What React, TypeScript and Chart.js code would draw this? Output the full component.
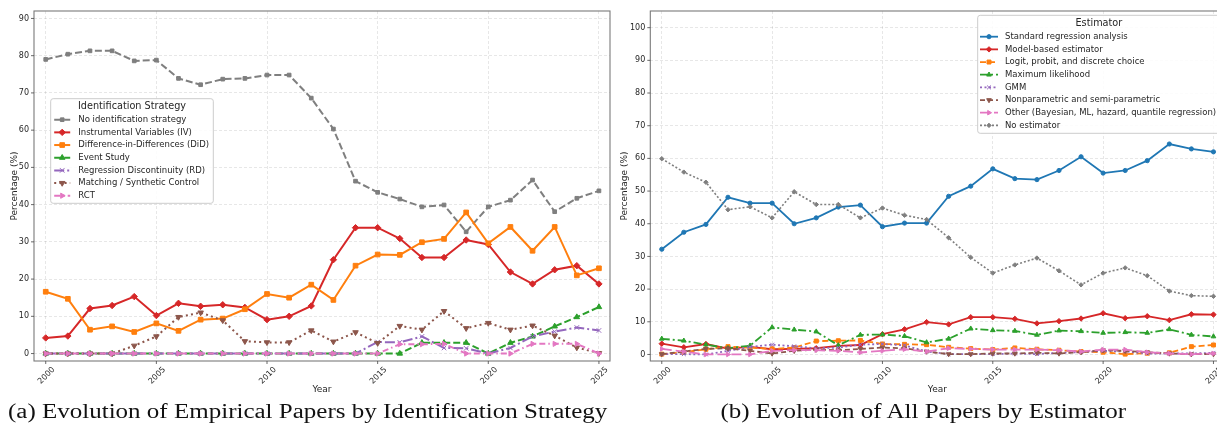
import React, { useEffect, useRef } from "react";
import { Chart, registerables } from "chart.js";

Chart.register(...registerables);

// ---------------- data ----------------
const years = [
  2000, 2001, 2002, 2003, 2004, 2005, 2006, 2007, 2008, 2009, 2010, 2011, 2012,
  2013, 2014, 2015, 2016, 2017, 2018, 2019, 2020, 2021, 2022, 2023, 2024, 2025,
];
const xTickValues = [2000, 2005, 2010, 2015, 2020, 2025];
const leftYTickValues = [0, 10, 20, 30, 40, 50, 60, 70, 80, 90];
const rightYTickValues = [0, 10, 20, 30, 40, 50, 60, 70, 80, 90, 100];

// (a) Identification strategy (% of empirical papers)
const noIdentification = [79.0, 80.4, 81.3, 81.3, 78.6, 78.8, 73.9, 72.2, 73.7, 73.9, 74.8, 74.8, 68.6, 60.3, 46.3, 43.3, 41.5, 39.4, 39.9, 32.7, 39.4, 41.2, 46.6, 38.1, 41.7, 43.7];
const instrumentalVariables = [4.2, 4.7, 12.1, 12.9, 15.3, 10.2, 13.5, 12.7, 13.1, 12.4, 9.1, 10.0, 12.8, 25.2, 33.8, 33.8, 30.9, 25.8, 25.8, 30.5, 29.3, 21.9, 18.7, 22.5, 23.6, 18.7];
const differenceInDifferences = [16.6, 14.7, 6.4, 7.3, 5.8, 8.1, 6.1, 9.1, 9.4, 11.9, 16.0, 15.0, 18.5, 14.4, 23.6, 26.6, 26.5, 29.9, 30.8, 37.9, 29.6, 34.0, 27.6, 34.0, 21.0, 22.9];
const eventStudy = [0, 0, 0, 0, 0, 0, 0, 0, 0, 0, 0, 0, 0, 0, 0, 0, 0, 2.9, 2.9, 2.9, 0, 2.9, 4.6, 7.3, 9.8, 12.5];
const regressionDiscontinuity = [0, 0, 0, 0, 0, 0, 0, 0, 0, 0, 0, 0, 0, 0, 0, 3.1, 3.0, 4.6, 1.5, 1.4, 0, 1.5, 4.6, 5.9, 7.0, 6.2];
const matchingSynthetic = [0, 0, 0, 0, 2.1, 4.6, 9.8, 11.0, 8.9, 3.3, 3.0, 3.0, 6.2, 3.2, 5.7, 2.8, 7.4, 6.4, 11.4, 6.8, 8.2, 6.4, 7.5, 4.8, 1.6, 0.1];
const rct = [0, 0, 0, 0, 0, 0, 0, 0, 0, 0, 0, 0, 0, 0, 0, 0, 2.5, 2.5, 2.6, 0, 0, 0, 2.6, 2.6, 2.6, 0];

// (b) Estimator (% of all papers)
const standardRegression = [32.2, 37.4, 39.8, 48.1, 46.3, 46.3, 40.0, 41.8, 45.1, 45.7, 39.1, 40.2, 40.2, 48.4, 51.5, 56.8, 53.8, 53.5, 56.3, 60.5, 55.5, 56.3, 59.3, 64.4, 62.9, 62.0];
const modelBased = [3.3, 2.2, 3.2, 1.8, 2.3, 1.6, 1.7, 1.9, 2.6, 2.9, 6.2, 7.7, 9.9, 9.2, 11.4, 11.4, 10.9, 9.5, 10.2, 11.0, 12.6, 11.1, 11.7, 10.5, 12.3, 12.2];
const logitProbit = [0.1, 0.7, 1.6, 2.4, 2.1, 1.7, 2.1, 4.1, 4.2, 4.3, 3.2, 3.1, 3.0, 2.2, 1.8, 1.5, 2.0, 1.6, 1.3, 0.9, 0.7, 0.1, 0.4, 0.5, 2.4, 2.9];
const maximumLikelihood = [4.8, 4.2, 3.0, 1.9, 2.7, 8.3, 7.6, 7.0, 2.8, 6.0, 6.1, 5.6, 3.7, 4.8, 7.9, 7.4, 7.2, 6.0, 7.3, 7.1, 6.6, 6.8, 6.6, 7.7, 6.0, 5.5];
const gmm = [0.1, 0.1, 0, 1.1, 2.3, 3.0, 2.5, 1.9, 2.1, 3.0, 3.2, 2.8, 0.9, 0.1, 0.1, 0.1, 0.3, 0.1, 0.5, 0.7, 1.1, 0.9, 0.3, 0.3, 0.3, 0.5];
const nonparametric = [0.1, 0.9, 1.7, 1.9, 1.1, 0.3, 1.1, 1.5, 1.3, 1.7, 2.1, 1.9, 0.9, 0.1, 0.1, 0.3, 0.3, 0.5, 0.3, 0.7, 1.3, 1.1, 0.7, 0.3, 0.1, 0.1];
const otherEstimators = [1.7, 0.9, 0, 0, 0, 1.1, 1.3, 1.3, 1.1, 0.6, 1.1, 1.6, 0.9, 1.9, 1.7, 1.5, 1.5, 1.5, 1.3, 0.9, 1.5, 1.5, 0.7, 0.3, 0.1, 0.3];
const noEstimator = [59.9, 55.8, 52.7, 44.3, 45.2, 41.8, 49.8, 45.9, 45.9, 41.8, 44.8, 42.6, 41.3, 35.7, 29.7, 24.9, 27.4, 29.5, 25.6, 21.3, 24.9, 26.5, 24.1, 19.4, 18.0, 17.8];

// ---------------- styling ----------------
const SANS = "'DejaVu Sans', 'Liberation Sans', sans-serif";
const TEXT = "#262626";
const GRID = "rgba(0,0,0,0.12)";
const FRAME = "#7a7a7a";

type Series = {
  label: string;
  data: number[];
  color: string;
  dash: number[];
  marker: string;
  rot?: number;
  r: number;
  w: number;
};

const leftSeries: Series[] = [
  { label: "No identification strategy", data: noIdentification, color: "#7f7f7f", dash: [7, 3], marker: "rect", r: 2.6, w: 2 },
  { label: "Instrumental Variables (IV)", data: instrumentalVariables, color: "#d62728", dash: [], marker: "rectRot", r: 3.2, w: 2 },
  { label: "Difference-in-Differences (DiD)", data: differenceInDifferences, color: "#ff7f0e", dash: [], marker: "rect", r: 3.3, w: 2 },
  { label: "Event Study", data: eventStudy, color: "#2ca02c", dash: [7, 3], marker: "triangle", r: 3.2, w: 2 },
  { label: "Regression Discontinuity (RD)", data: regressionDiscontinuity, color: "#9467bd", dash: [10, 3, 2, 3], marker: "crossRot", r: 3.2, w: 2 },
  { label: "Matching / Synthetic Control", data: matchingSynthetic, color: "#8c564b", dash: [2, 3.2], marker: "triangle", rot: 180, r: 3.2, w: 2 },
  { label: "RCT", data: rct, color: "#e377c2", dash: [6, 3, 1.5, 3], marker: "triangle", rot: 90, r: 3, w: 2 },
];

const rightSeries: Series[] = [
  { label: "Standard regression analysis", data: standardRegression, color: "#1f77b4", dash: [], marker: "circle", r: 2.1, w: 1.8 },
  { label: "Model-based estimator", data: modelBased, color: "#d62728", dash: [], marker: "rectRot", r: 2.7, w: 1.8 },
  { label: "Logit, probit, and discrete choice", data: logitProbit, color: "#ff7f0e", dash: [6, 3], marker: "rect", r: 2.8, w: 1.8 },
  { label: "Maximum likelihood", data: maximumLikelihood, color: "#2ca02c", dash: [8, 3, 2, 3], marker: "triangle", r: 2.7, w: 1.8 },
  { label: "GMM", data: gmm, color: "#9467bd", dash: [2, 2.5], marker: "crossRot", r: 2.7, w: 1.8 },
  { label: "Nonparametric and semi-parametric", data: nonparametric, color: "#8c564b", dash: [5, 3], marker: "triangle", rot: 180, r: 2.7, w: 1.8 },
  { label: "Other (Bayesian, ML, hazard, quantile regression)", data: otherEstimators, color: "#e377c2", dash: [10, 4], marker: "triangle", rot: 90, r: 2.6, w: 1.8 },
  { label: "No estimator", data: noEstimator, color: "#7f7f7f", dash: [2, 2], marker: "rectRot", r: 2.2, w: 1.6 },
];

type LegendSpec = {
  title: string;
  x: number; y: number; w: number; h: number;
  titleY: number; row0: number; step: number;
  s0: number; s1: number; tx: number;
  titleSize: number; itemSize: number;
};

type PanelSpec = {
  left: number; width: number; height: number;
  padLeft: number; padRight: number; padTop: number;
  yAxisWidth: number; xAxisHeight: number;
  xMin: number; xMax: number; yMin: number; yMax: number;
  yTicks: number[];
  series: Series[];
  xTitleY: number; yTitleX: number;
  legend: LegendSpec;
};

function drawMarker(ctx: CanvasRenderingContext2D, s: Series, x: number, y: number) {
  const r = s.r;
  ctx.save();
  ctx.translate(x, y);
  ctx.rotate(((s.rot || 0) * Math.PI) / 180);
  ctx.setLineDash([]);
  ctx.fillStyle = s.color;
  ctx.strokeStyle = s.color;
  ctx.lineWidth = 1;
  ctx.beginPath();
  if (s.marker === "circle") {
    ctx.arc(0, 0, r, 0, Math.PI * 2);
    ctx.fill();
    ctx.stroke();
  } else if (s.marker === "rect") {
    const h = r * Math.SQRT1_2;
    ctx.rect(-h, -h, 2 * h, 2 * h);
    ctx.fill();
    ctx.stroke();
  } else if (s.marker === "rectRot") {
    ctx.moveTo(0, -r); ctx.lineTo(r, 0); ctx.lineTo(0, r); ctx.lineTo(-r, 0); ctx.closePath();
    ctx.fill();
    ctx.stroke();
  } else if (s.marker === "triangle") {
    for (let k = 0; k < 3; k++) {
      const a = (k * 2 * Math.PI) / 3;
      const px = Math.sin(a) * r, py = -Math.cos(a) * r;
      if (k === 0) ctx.moveTo(px, py); else ctx.lineTo(px, py);
    }
    ctx.closePath();
    ctx.fill();
    ctx.stroke();
  } else if (s.marker === "crossRot") {
    const h = r * Math.SQRT1_2;
    ctx.moveTo(-h, -h); ctx.lineTo(h, h); ctx.moveTo(h, -h); ctx.lineTo(-h, h);
    ctx.stroke();
  }
  ctx.restore();
}

function makeDecor(spec: PanelSpec) {
  return {
    id: "decor",
    afterDraw(chart: any) {
      const { ctx, chartArea: a } = chart;
      ctx.save();
      // frame
      ctx.setLineDash([]);
      ctx.strokeStyle = FRAME;
      ctx.lineWidth = 1.1;
      ctx.strokeRect(a.left, a.top, a.right - a.left, a.bottom - a.top);
      // tick marks
      ctx.strokeStyle = "#444";
      ctx.lineWidth = 0.8;
      ctx.beginPath();
      for (const v of xTickValues) {
        const px = chart.scales.x.getPixelForValue(v);
        ctx.moveTo(px, a.bottom);
        ctx.lineTo(px, a.bottom + 3);
      }
      for (const v of spec.yTicks) {
        const py = chart.scales.y.getPixelForValue(v);
        ctx.moveTo(a.left - 3, py);
        ctx.lineTo(a.left, py);
      }
      ctx.stroke();
      // axis titles
      ctx.fillStyle = TEXT;
      ctx.font = `9px ${SANS}`;
      ctx.textAlign = "center";
      ctx.textBaseline = "middle";
      ctx.fillText("Year", (a.left + a.right) / 2, spec.xTitleY);
      ctx.save();
      ctx.translate(spec.yTitleX, (a.top + a.bottom) / 2);
      ctx.rotate(-Math.PI / 2);
      ctx.fillText("Percentage (%)", 0, 0);
      ctx.restore();
      // legend
      const L = spec.legend;
      ctx.fillStyle = "rgba(255,255,255,0.85)";
      ctx.strokeStyle = "#cccccc";
      ctx.lineWidth = 1;
      ctx.beginPath();
      (ctx as any).roundRect(L.x, L.y, L.w, L.h, 2.5);
      ctx.fill();
      ctx.stroke();
      ctx.fillStyle = TEXT;
      ctx.font = `${L.titleSize}px ${SANS}`;
      ctx.textAlign = "center";
      ctx.fillText(L.title, L.x + L.w / 2, L.titleY);
      ctx.font = `${L.itemSize}px ${SANS}`;
      ctx.textAlign = "left";
      spec.series.forEach((s, i) => {
        const yy = L.row0 + i * L.step;
        ctx.save();
        ctx.strokeStyle = s.color;
        ctx.lineWidth = s.w;
        ctx.setLineDash(s.dash);
        ctx.beginPath();
        ctx.moveTo(L.x + L.s0, yy);
        ctx.lineTo(L.x + L.s1, yy);
        ctx.stroke();
        ctx.restore();
        drawMarker(ctx, s, L.x + (L.s0 + L.s1) / 2, yy);
        ctx.fillStyle = TEXT;
        ctx.fillText(s.label, L.x + L.tx, yy);
      });
      ctx.restore();
    },
  };
}

function Panel({ spec }: { spec: PanelSpec }) {
  const ref = useRef<HTMLCanvasElement>(null);
  useEffect(() => {
    const n = spec.series.length;
    const datasets = spec.series.map((s, i) => ({
      label: s.label,
      data: years.map((yr, k) => ({ x: yr, y: s.data[k] })),
      borderColor: s.color,
      backgroundColor: s.color,
      borderWidth: s.w,
      borderDash: s.dash,
      pointStyle: s.marker,
      pointRotation: s.rot || 0,
      pointRadius: s.r,
      pointBorderWidth: 1,
      pointBackgroundColor: s.color,
      pointBorderColor: s.color,
      tension: 0,
      fill: false,
      order: n - i,
    }));
    const tickFont = { family: SANS, size: 8 };
    const chart = new Chart(ref.current as HTMLCanvasElement, {
      type: "line",
      data: { datasets } as any,
      options: {
        animation: false,
        responsive: false,
        maintainAspectRatio: false,
        layout: { padding: { left: spec.padLeft, right: spec.padRight, top: spec.padTop, bottom: 0 } },
        plugins: { legend: { display: false }, tooltip: { enabled: false } },
        scales: {
          x: {
            type: "linear",
            min: spec.xMin,
            max: spec.xMax,
            afterBuildTicks: (sc: any) => { sc.ticks = xTickValues.map((v) => ({ value: v })); },
            afterFit: (sc: any) => { sc.height = spec.xAxisHeight; },
            grid: { color: GRID, lineWidth: 0.8, drawTicks: false },
            border: { display: false, dash: [3, 2] },
            ticks: {
              font: tickFont, color: TEXT, minRotation: 45, maxRotation: 45,
              padding: 4, labelOffset: 8, autoSkip: false,
              callback: (v: any) => String(v),
            },
          },
          y: {
            type: "linear",
            min: spec.yMin,
            max: spec.yMax,
            afterBuildTicks: (sc: any) => { sc.ticks = spec.yTicks.map((v) => ({ value: v })); },
            afterFit: (sc: any) => { sc.width = spec.yAxisWidth; },
            grid: { color: GRID, lineWidth: 0.8, drawTicks: false },
            border: { display: false, dash: [3, 2] },
            ticks: { font: tickFont, color: TEXT, padding: 5, callback: (v: any) => String(v) },
          },
        },
      } as any,
      plugins: [makeDecor(spec)],
    });
    return () => chart.destroy();
  }, []);
  return (
    <canvas
      ref={ref}
      width={spec.width}
      height={spec.height}
      style={{ position: "absolute", left: spec.left, top: 0, width: spec.width, height: spec.height }}
    />
  );
}

const leftSpec: PanelSpec = {
  left: 0, width: 615, height: 400,
  padLeft: 0, padRight: 3, padTop: 11,
  yAxisWidth: 34, xAxisHeight: 39,
  xMin: 1999.47, xMax: 2025.5, yMin: -2, yMax: 92,
  yTicks: leftYTickValues,
  series: leftSeries,
  xTitleY: 390, yTitleX: 15,
  legend: {
    title: "Identification Strategy",
    x: 50.7, y: 98.7, w: 162.6, h: 104.6,
    titleY: 106.7, row0: 119.7, step: 12.67,
    s0: 3.5, s1: 19.5, tx: 27.6,
    titleSize: 9.7, itemSize: 8.5,
  },
};

const rightSpec: PanelSpec = {
  left: 615, width: 622, height: 400,
  padLeft: 0, padRight: 12.5, padTop: 11,
  yAxisWidth: 35.3, xAxisHeight: 39,
  xMin: 1999.48, xMax: 2025.5, yMin: -2, yMax: 105.1,
  yTicks: rightYTickValues,
  series: rightSeries,
  xTitleY: 390, yTitleX: 10,
  legend: {
    title: "Estimator",
    x: 362.7, y: 15.3, w: 242.3, h: 118,
    titleY: 23.3, row0: 36.7, step: 12.67,
    s0: 2.3, s1: 20.3, tx: 27.3,
    titleSize: 9.7, itemSize: 8.5,
  },
};

function Caption({ text, center }: { text: string; center: number }) {
  return (
    <div
      style={{
        position: "absolute",
        top: 399,
        left: center - 400,
        width: 800,
        textAlign: "center",
        fontFamily: "'Liberation Serif', 'Times New Roman', serif",
        fontSize: 20.5,
        lineHeight: "24px",
        color: "#111",
        whiteSpace: "nowrap",
      }}
    >
      <span style={{ display: "inline-block", transform: "scaleX(1.22)", transformOrigin: "50% 50%" }}>{text}</span>
    </div>
  );
}

export default function App() {
  return (
    <div style={{ position: "fixed", left: 0, top: 0, width: 1217, height: 430, overflow: "hidden", background: "#fff" }}>
      <Panel spec={leftSpec} />
      <Panel spec={rightSpec} />
      <Caption text="(a) Evolution of Empirical Papers by Identification Strategy" center={307.5} />
      <Caption text="(b) Evolution of All Papers by Estimator" center={923} />
    </div>
  );
}
